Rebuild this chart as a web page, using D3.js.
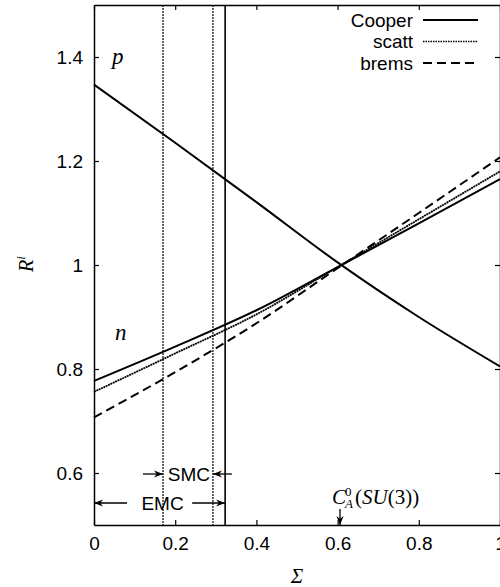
<!DOCTYPE html>
<html>
<head>
  <meta charset="utf-8">
  <title>R^i vs Sigma</title>
  <script src="https://d3js.org/d3.v7.min.js"></script>
  <style>
    body { margin: 0; background: #fff; }
    svg text { fill: #000; }
    .tick-label { font-family: 'Liberation Sans', Arial, sans-serif; font-size: 19px; }
    .math { font-family: 'Liberation Serif', 'Times New Roman', serif; font-style: italic; }
  </style>
</head>
<body>
  <svg id="chart" width="500" height="587"></svg>
  <script>
    // values
    var sigma = [0, 0.2, 0.4, 0.6, 0.8, 1.0];
    var pCooper = [1.347, 1.235, 1.121, 1.005, 0.900, 0.805];
    var nCooper = [0.777, 0.843, 0.913, 0.996, 1.080, 1.165];
    var nScatt = [0.756, 0.830, 0.905, 0.996, 1.088, 1.180];
    var nBrems = [0.707, 0.794, 0.888, 0.994, 1.100, 1.207];

    var xTicks = [0, 0.2, 0.4, 0.6, 0.8, 1];
    var xTickLabels = ['0', '0.2', '0.4', '0.6', '0.8', '1'];
    var yTicks = [0.6, 0.8, 1.0, 1.2, 1.4];
    var yTickLabels = ['0.6', '0.8', '1', '1.2', '1.4'];

    var smcBounds = [0.17, 0.293];
    var emcBound = 0.323;
    var caSU3 = 0.606;

    var legendNames = ['Cooper', 'scatt', 'brems'];

    var svg = d3.select('#chart'),
        plotLeft = 94, plotRight = 500, plotTop = 5, plotBottom = 525;

    var x = d3.scaleLinear().domain([0, 1]).range([plotLeft, plotRight]);
    var y = d3.scaleLinear().domain([0.5, 1.5]).range([plotBottom, plotTop]);

    var styles = {
      solid: { width: 2, dash: null },
      dotted: { width: 1.8, dash: '2,0.6' },
      dashed: { width: 2, dash: '9,5' }
    };

    // frame with inward ticks on all four sides
    var tickLen = 5;
    svg.append('g').attr('transform', 'translate(0,' + plotBottom + ')')
      .call(d3.axisBottom(x).tickValues(xTicks).tickSize(-tickLen).tickSizeOuter(0)
        .tickFormat(function(d, i) { return xTickLabels[i]; }).tickPadding(12))
      .call(styleAxis);
    svg.append('g').attr('transform', 'translate(0,' + plotTop + ')')
      .call(d3.axisTop(x).tickValues(xTicks).tickSize(-tickLen).tickSizeOuter(0).tickFormat(''))
      .call(styleAxis);
    svg.append('g').attr('transform', 'translate(' + plotLeft + ',0)')
      .call(d3.axisLeft(y).tickValues(yTicks).tickSize(-tickLen).tickSizeOuter(0)
        .tickFormat(function(d, i) { return yTickLabels[i]; }).tickPadding(11))
      .call(styleAxis);
    svg.append('g').attr('transform', 'translate(' + plotRight + ',0)')
      .call(d3.axisRight(y).tickValues(yTicks).tickSize(-tickLen).tickSizeOuter(0).tickFormat(''))
      .call(styleAxis);

    function styleAxis(g) {
      g.attr('font-family', null).attr('font-size', null);
      g.select('.domain').attr('stroke-width', 1.5);
      g.selectAll('.tick line').attr('stroke-width', 1.2);
      g.selectAll('.tick text').attr('class', 'tick-label').attr('fill', '#000');
    }

    // vertical markers
    [smcBounds[0], smcBounds[1]].forEach(function(v) {
      svg.append('line')
        .attr('x1', x(v)).attr('x2', x(v))
        .attr('y1', plotTop).attr('y2', plotBottom)
        .attr('stroke', '#000').attr('stroke-width', 1.2).attr('stroke-dasharray', '2,1');
    });
    svg.append('line')
      .attr('x1', x(emcBound)).attr('x2', x(emcBound))
      .attr('y1', plotTop).attr('y2', plotBottom)
      .attr('stroke', '#000').attr('stroke-width', 1.6);

    // curves
    var line = d3.line()
      .x(function(d) { return x(d[0]); })
      .y(function(d) { return y(d[1]); })
      .curve(d3.curveMonotoneX);

    var curves = [
      { values: pCooper, style: styles.solid },
      { values: nCooper, style: styles.solid },
      { values: nScatt, style: styles.dotted },
      { values: nBrems, style: styles.dashed }
    ];

    svg.selectAll('path.curve')
      .data(curves)
      .enter().append('path')
        .attr('class', 'curve')
        .attr('fill', 'none')
        .attr('stroke', '#000')
        .attr('stroke-width', function(d) { return d.style.width; })
        .attr('stroke-dasharray', function(d) { return d.style.dash; })
        .attr('d', function(d) { return line(d3.zip(sigma, d.values)); });

    // arrow markers
    svg.append('defs').append('marker')
      .attr('id', 'arr')
      .attr('viewBox', '0 0 10 10')
      .attr('refX', 10).attr('refY', 5)
      .attr('markerWidth', 9).attr('markerHeight', 9)
      .attr('markerUnits', 'userSpaceOnUse')
      .attr('orient', 'auto')
      .append('path').attr('d', 'M0,1 L10,5 L0,9 L3,5 Z').attr('fill', '#000');

    function arrow(x1, y1, x2, y2) {
      svg.append('line')
        .attr('x1', x1).attr('y1', y1).attr('x2', x2).attr('y2', y2)
        .attr('stroke', '#000').attr('stroke-width', 1.3)
        .attr('marker-end', 'url(#arr)');
    }

    // SMC
    var smcY = 474;
    arrow(x(smcBounds[0]) - 20, smcY, x(smcBounds[0]), smcY);
    arrow(x(smcBounds[1]) + 19, smcY, x(smcBounds[1]), smcY);
    svg.append('text').attr('class', 'tick-label')
      .attr('x', (x(smcBounds[0]) + x(smcBounds[1])) / 2 + 1).attr('y', smcY + 7)
      .attr('text-anchor', 'middle').text('SMC');

    // EMC
    var emcY = 503;
    arrow(x(0) + 33, emcY, x(0), emcY);
    arrow(x(emcBound) - 33, emcY, x(emcBound), emcY);
    svg.append('text').attr('class', 'tick-label')
      .attr('x', (x(0) + x(emcBound)) / 2 + 3).attr('y', emcY + 7)
      .attr('text-anchor', 'middle').text('EMC');

    // C_A^0(SU(3))
    arrow(x(caSU3), 509, x(caSU3), plotBottom);
    var ca = svg.append('text').attr('x', x(caSU3) - 8).attr('y', 504)
      .attr('font-family', "'Liberation Serif', 'Times New Roman', serif")
      .attr('font-size', 21);
    ca.append('tspan').attr('font-style', 'italic').text('C');
    ca.append('tspan').attr('font-size', 13).attr('dy', -8).attr('dx', -1).text('0');
    ca.append('tspan').attr('font-size', 13).attr('font-style', 'italic').attr('dy', 12).attr('dx', -6.5).text('A');
    ca.append('tspan').attr('dy', -4).attr('dx', 2).text('(');
    ca.append('tspan').attr('font-style', 'italic').text('SU');
    ca.append('tspan').text('(3))');

    // p / n labels
    svg.append('text').attr('class', 'math').attr('font-size', 23)
      .attr('x', 112).attr('y', 64).text('p');
    svg.append('text').attr('class', 'math').attr('font-size', 23)
      .attr('x', 115).attr('y', 340).text('n');

    // axis titles
    svg.append('text').attr('class', 'math').attr('font-size', 21)
      .attr('x', x(0.5)).attr('y', 583).attr('text-anchor', 'middle').text('Σ');
    var ri = svg.append('text').attr('class', 'math').attr('font-size', 20)
      .attr('transform', 'translate(33,264) rotate(-90)').attr('text-anchor', 'middle');
    ri.append('tspan').text('R');
    ri.append('tspan').attr('font-size', 13).attr('dy', -8).text('i');

    // legend
    var legendStyles = [styles.solid, { width: 1.5, dash: '1.5,1' }, styles.dashed];
    var lg = svg.append('g');
    legendNames.forEach(function(name, i) {
      var ly = 20 + i * 21.5;
      lg.append('text').attr('class', 'tick-label')
        .attr('x', 413).attr('y', ly + 6.5).attr('text-anchor', 'end').text(name);
      lg.append('line')
        .attr('x1', 423).attr('x2', 478).attr('y1', ly).attr('y2', ly)
        .attr('stroke', '#000')
        .attr('stroke-width', legendStyles[i].width)
        .attr('stroke-dasharray', legendStyles[i].dash);
    });
  </script>
</body>
</html>
